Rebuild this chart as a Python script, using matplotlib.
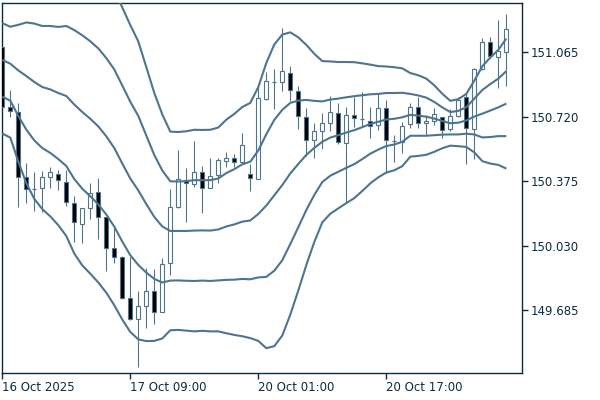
import matplotlib
matplotlib.use("Agg")
import matplotlib.pyplot as plt
from matplotlib.patches import Rectangle
import numpy as np

# Hourly candles (USD/JPY style prices)
opens = [151.096, 150.771, 150.748, 150.400, 150.334, 150.338, 150.396, 150.414,
         150.373, 150.257, 150.145, 150.230, 150.316, 150.185, 150.016, 149.968,
         149.751, 149.636, 149.707, 149.787, 149.673, 149.936, 150.236, 150.382,
         150.359, 150.423, 150.338, 150.409, 150.485, 150.498, 150.480, 150.414,
         150.387, 150.816, 150.907, 150.905, 150.954, 150.860, 150.721, 150.596,
         150.646, 150.686, 150.742, 150.582, 150.729, 150.707, 150.700, 150.677,
         150.766, 150.591, 150.587, 150.682, 150.775, 150.686, 150.698, 150.721,
         150.654, 150.726, 150.828, 150.654, 150.975, 151.120, 151.042, 151.069]
highs = [151.096, 150.864, 150.793, 150.471, 150.423, 150.430, 150.453, 150.436,
         150.436, 150.296, 150.230, 150.368, 150.391, 150.185, 150.123, 149.975,
         149.971, 149.787, 149.909, 149.904, 149.966, 150.332, 150.543, 150.445,
         150.591, 150.457, 150.498, 150.498, 150.530, 150.520, 150.632, 150.468,
         150.882, 150.962, 150.975, 151.195, 150.993, 150.886, 150.769, 150.686,
         150.739, 150.832, 150.793, 150.775, 150.828, 150.852, 150.771, 150.841,
         150.811, 150.623, 150.694, 150.793, 150.828, 150.730, 150.769, 150.721,
         150.761, 150.828, 150.846, 150.984, 151.141, 151.150, 151.239, 151.271]
lows = [150.771, 150.718, 150.236, 150.257, 150.218, 150.212, 150.341, 150.328,
        150.244, 150.051, 150.046, 150.173, 150.064, 149.896, 149.939, 149.743,
        149.632, 149.382, 149.588, 149.609, 149.673, 149.873, 150.230, 150.159,
        150.346, 150.204, 150.338, 150.364, 150.453, 150.453, 150.468, 150.325,
        150.387, 150.811, 150.761, 150.860, 150.807, 150.654, 150.512, 150.498,
        150.546, 150.646, 150.575, 150.266, 150.668, 150.671, 150.605, 150.650,
        150.418, 150.480, 150.528, 150.659, 150.659, 150.623, 150.677, 150.605,
        150.646, 150.718, 150.468, 150.493, 150.971, 151.034, 150.876, 150.887]
closes = [150.771, 150.752, 150.396, 150.334, 150.334, 150.396, 150.423, 150.382,
          150.262, 150.155, 150.230, 150.314, 150.182, 150.016, 149.968, 149.751,
          149.636, 149.707, 149.787, 149.673, 149.930, 150.236, 150.386, 150.364,
          150.423, 150.338, 150.405, 150.489, 150.498, 150.480, 150.569, 150.391,
          150.820, 150.912, 150.907, 150.966, 150.864, 150.725, 150.596, 150.646,
          150.686, 150.745, 150.587, 150.730, 150.713, 150.707, 150.671, 150.766,
          150.596, 150.591, 150.673, 150.775, 150.686, 150.698, 150.734, 150.650,
          150.726, 150.811, 150.659, 150.975, 151.120, 151.046, 151.073, 151.189]

# Bollinger band middle line and one standard deviation
bb_mid = [151.025, 151.005, 150.969, 150.939, 150.907, 150.880, 150.867, 150.848,
          150.832, 150.786, 150.746, 150.710, 150.669, 150.616, 150.553, 150.470,
          150.390, 150.326, 150.253, 150.184, 150.133, 150.109, 150.109, 150.109,
          150.111, 150.112, 150.111, 150.117, 150.133, 150.144, 150.159, 150.165,
          150.200, 150.245, 150.300, 150.355, 150.417, 150.468, 150.516, 150.554,
          150.587, 150.609, 150.622, 150.636, 150.649, 150.665, 150.682, 150.694,
          150.706, 150.710, 150.718, 150.731, 150.727, 150.721, 150.711, 150.698,
          150.686, 150.689, 150.701, 150.722, 150.737, 150.754, 150.771, 150.791]
bb_dev = [0.197, 0.198, 0.244, 0.287, 0.313, 0.327, 0.340, 0.354,
          0.375, 0.399, 0.411, 0.415, 0.418, 0.419, 0.421, 0.418,
          0.411, 0.399, 0.367, 0.332, 0.300, 0.266, 0.265, 0.267,
          0.270, 0.269, 0.270, 0.273, 0.286, 0.296, 0.307, 0.315,
          0.340, 0.382, 0.404, 0.403, 0.378, 0.339, 0.295, 0.252,
          0.216, 0.204, 0.196, 0.189, 0.182, 0.171, 0.159, 0.149,
          0.142, 0.138, 0.131, 0.112, 0.108, 0.102, 0.089, 0.073,
          0.060, 0.063, 0.071, 0.096, 0.127, 0.142, 0.154, 0.174]
band_multipliers = [-2, -1, 0, 1, 2]

time_labels = ["16 Oct 2025", "17 Oct 09:00", "20 Oct 01:00", "20 Oct 17:00"]
time_label_bars = [0, 16, 32, 48]
price_ticks = [151.065, 150.720, 150.375, 150.030, 149.685]

LINE = "#4d7590"
FRAME = "#0d2b42"

W, H = 600, 400
fig = plt.figure(figsize=(6, 4), dpi=100)
fig.patch.set_facecolor("white")
left_px, right_px, top_px, bottom_px = 2.3, 522.0, 2.5, 373.0
ax = fig.add_axes([left_px / W, 1 - bottom_px / H,
                   (right_px - left_px) / W, (bottom_px - top_px) / H])
ax.set_facecolor("white")

n = len(opens)
x = np.arange(n)
body_w = 0.52
for i in range(n):
    o, h, l, c = opens[i], highs[i], lows[i], closes[i]
    ax.vlines(i, l, h, color=LINE, linewidth=0.8, zorder=2)
    lo, hi = min(o, c), max(o, c)
    if hi - lo < 1e-6:
        ax.hlines(o, i - body_w / 2, i + body_w / 2, color=LINE, linewidth=0.9, zorder=3)
    else:
        face = "black" if c < o else "white"
        ax.add_patch(Rectangle((i - body_w / 2, lo), body_w, hi - lo,
                               facecolor=face, edgecolor=LINE, linewidth=0.8, zorder=3))

mid = np.array(bb_mid)
dev = np.array(bb_dev)
for k in band_multipliers:
    ax.plot(x, mid + k * dev, color=LINE, linewidth=1.5, zorder=4,
            solid_capstyle="butt")

ax.set_xlim(0, (right_px - left_px) / 8.0)
y_top = 151.3462 - top_px * 0.005357
y_bot = 151.3462 - bottom_px * 0.005357
ax.set_ylim(y_bot, y_top)

for s in ax.spines.values():
    s.set_color(FRAME)
    s.set_linewidth(1.0)

ax.yaxis.tick_right()
ax.set_yticks(price_ticks)
ax.set_yticklabels([f"{p:.3f}" for p in price_ticks])
ax.tick_params(axis="y", direction="out", length=4, width=1, color=FRAME,
               labelcolor=FRAME, labelsize=8.5, pad=2)
ax.set_xticks(time_label_bars)
ax.set_xticklabels(time_labels)
for lbl in ax.get_xticklabels():
    lbl.set_horizontalalignment("left")
ax.tick_params(axis="x", direction="out", length=4, width=1, color=FRAME,
               labelcolor=FRAME, labelsize=8.5, pad=2)

fig.savefig("out.png", dpi=100)
